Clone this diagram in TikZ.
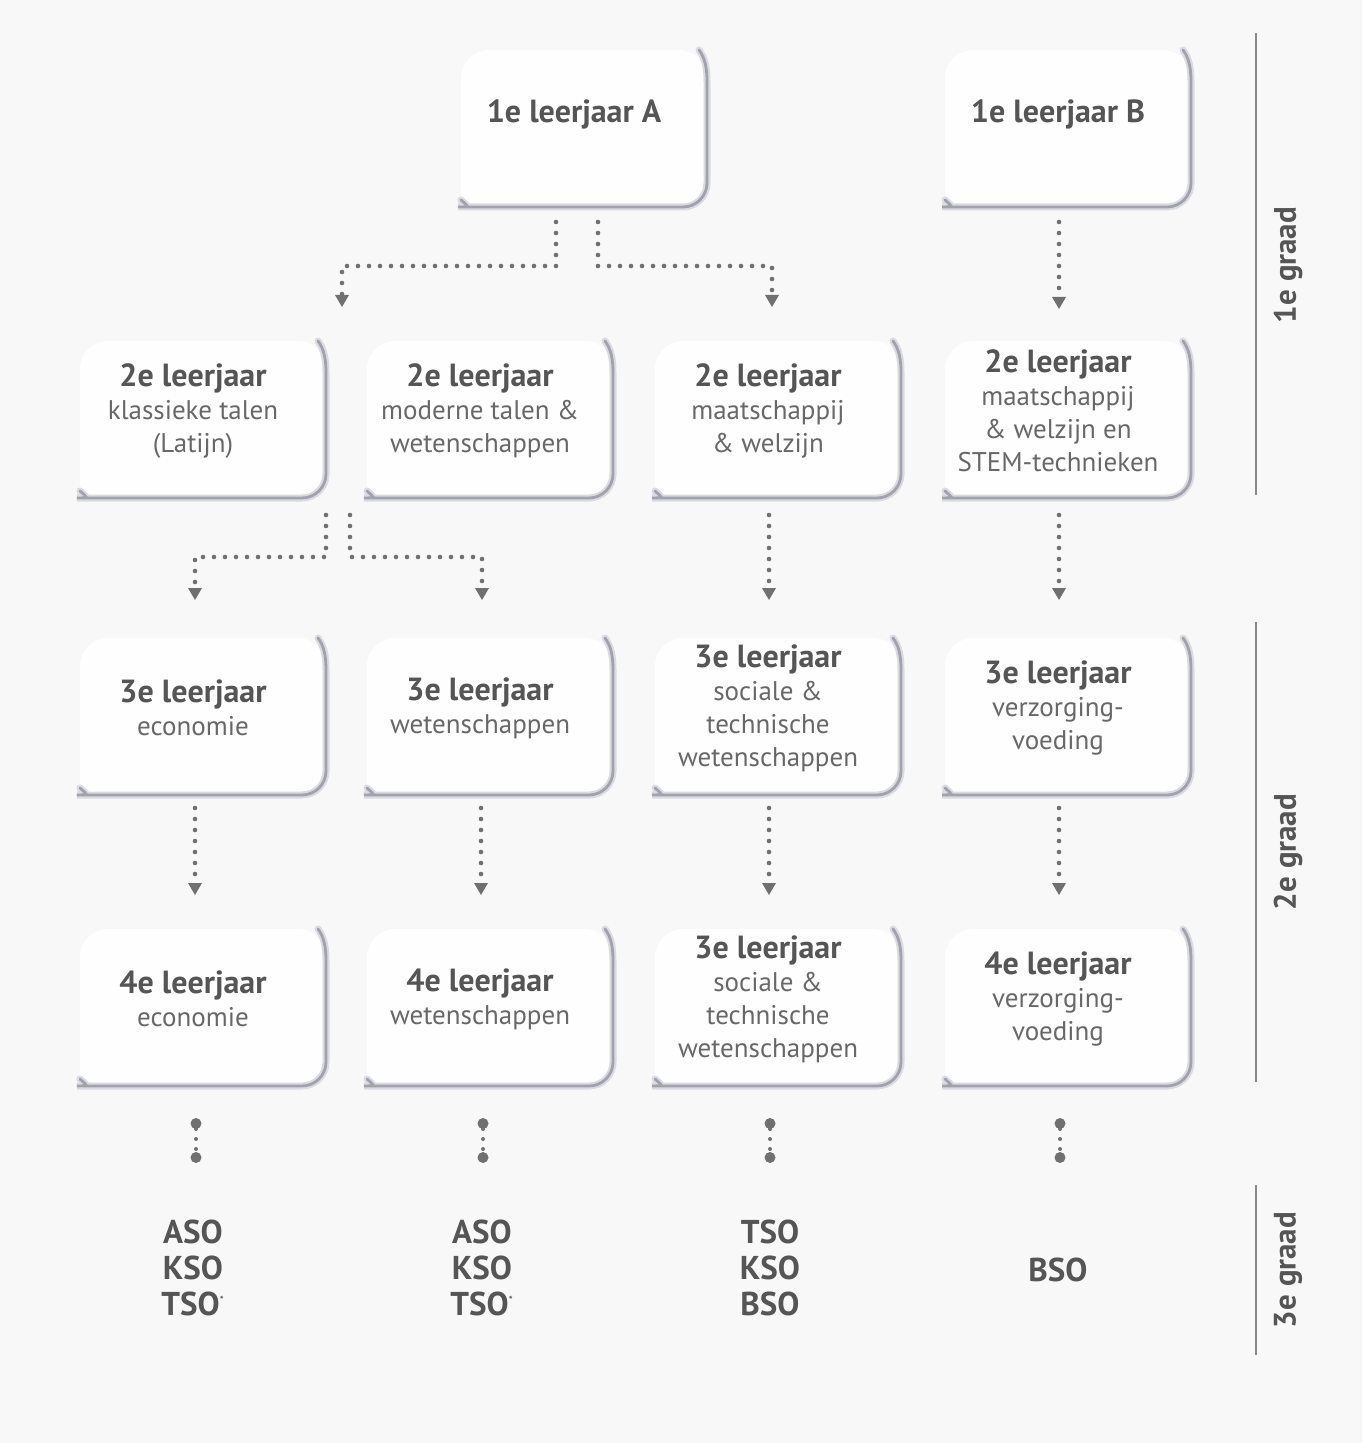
\documentclass[tikz,border=0pt]{standalone}
\usepackage{fontspec}
\setmainfont{PT Sans}
\usetikzlibrary{arrows.meta,calc}
\definecolor{bg}{HTML}{F8F8F8}
\definecolor{cardfill}{HTML}{FEFEFE}
\definecolor{tb}{HTML}{555555}
\definecolor{tr}{HTML}{686868}
\definecolor{edge}{HTML}{A2A2AA}
\definecolor{edgesoft}{HTML}{DADAE2}
\definecolor{dotc}{HTML}{707070}
\definecolor{gl}{HTML}{888888}
\tikzset{
  card/.style={align=center, text=tr, font=\fontsize{13.5}{16.5}\selectfont, inner sep=0pt},
  conn/.style={draw=dotc, line width=2.3pt, line cap=round, dash pattern=on 0pt off 5.5pt,
    -{Triangle[width=7pt,length=6pt,line width=0pt]}},
  endconn/.style={draw=dotc, line width=2pt, line cap=round, dash pattern=on 0pt off 5pt,
    {Circle[length=5.5pt,line width=0pt]}-{Circle[length=5.5pt,line width=0pt]}},
  outcome/.style={align=center, text=tb, font=\fontsize{16.5}{18}\selectfont\bfseries, inner sep=0pt},
  gradelabel/.style={rotate=90, text=tb, font=\fontsize{15.5}{17}\selectfont\bfseries, inner sep=0pt},
  gradeline/.style={draw=gl, line width=1pt},
}
\newcommand\hd[1]{{\fontsize{16}{16.5}\selectfont\bfseries\color{tb}#1}}
\newcommand\cardpath[2]{%
  (125,-#1) .. controls (131,-#1+8) and (133,-#1+18) .. (133,-#1+32)
  [rounded corners=12pt] -- (133,#2) -- (-92,#2) [sharp corners]
  .. controls (-102,#2) and (-108,#2-2) .. (-113,#2-7)}
\newcommand\drawcard[3]{%
  \begin{scope}[shift={(#1.center)}]
    \fill[cardfill] (-113,#3-7) [rounded corners=14pt] -- (-113,-#2) -- (133,-#2) -- (133,#3)
      [sharp corners] -- (-92,#3) .. controls (-102,#3) and (-108,#3-2) .. (-113,#3-7) -- cycle;
    \draw[edgesoft, line width=3.5pt, line cap=round] \cardpath{#2}{#3};
    \draw[edge, line width=1.4pt, line cap=round] \cardpath{#2}{#3};
  \end{scope}}
\begin{document}
\begin{tikzpicture}[x=0.5pt,y=-0.5pt]
\useasboundingbox (0,0) rectangle (1362,1443);
\fill[bg] (0,0) rectangle (1362,1443);

% card anchor nodes (text)
\node[card] (n1a) at (574,114) {\hd{1e leerjaar A}};
\node[card] (n1b) at (1058,114) {\hd{1e leerjaar B}};
\node[card] (n21) at (193,411) {\hd{2e leerjaar}\\klassieke talen\\(Latijn)};
\node[card] (n22) at (480,411) {\hd{2e leerjaar}\\moderne talen \&\\wetenschappen};
\node[card] (n23) at (768,411) {\hd{2e leerjaar}\\maatschappij\\\& welzijn};
\node[card] (n24) at (1058,411) {\hd{2e leerjaar}\\maatschappij\\\& welzijn en\\STEM-technieken};
\node[card] (n31) at (193,708) {\hd{3e leerjaar}\\economie};
\node[card] (n32) at (480,708) {\hd{3e leerjaar}\\wetenschappen};
\node[card] (n33) at (768,708) {\hd{3e leerjaar}\\sociale \&\\technische\\wetenschappen};
\node[card] (n34) at (1058,708) {\hd{3e leerjaar}\\verzorging-\\voeding};
\node[card] (n41) at (193,999) {\hd{4e leerjaar}\\economie};
\node[card] (n42) at (480,999) {\hd{4e leerjaar}\\wetenschappen};
\node[card] (n43) at (768,999) {\hd{3e leerjaar}\\sociale \&\\technische\\wetenschappen};
\node[card] (n44) at (1058,999) {\hd{4e leerjaar}\\verzorging-\\voeding};

% card outlines
\drawcard{n1a}{64}{93}
\drawcard{n1b}{64}{93}
\foreach \n in {n21,n22,n23,n24,n31,n32,n33,n34,n41,n42,n43,n44}{\drawcard{\n}{70}{87}}

% texts on top of the card fills
\node[card] at (n1a) {\hd{1e leerjaar A}};
\node[card] at (n1b) {\hd{1e leerjaar B}};
\node[card] at (n21) {\hd{2e leerjaar}\\klassieke talen\\(Latijn)};
\node[card] at (n22) {\hd{2e leerjaar}\\moderne talen \&\\wetenschappen};
\node[card] at (n23) {\hd{2e leerjaar}\\maatschappij\\\& welzijn};
\node[card] at (n24) {\hd{2e leerjaar}\\maatschappij\\\& welzijn en\\STEM-technieken};
\node[card] at (n31) {\hd{3e leerjaar}\\economie};
\node[card] at (n32) {\hd{3e leerjaar}\\wetenschappen};
\node[card] at (n33) {\hd{3e leerjaar}\\sociale \&\\technische\\wetenschappen};
\node[card] at (n34) {\hd{3e leerjaar}\\verzorging-\\voeding};
\node[card] at (n41) {\hd{4e leerjaar}\\economie};
\node[card] at (n42) {\hd{4e leerjaar}\\wetenschappen};
\node[card] at (n43) {\hd{3e leerjaar}\\sociale \&\\technische\\wetenschappen};
\node[card] at (n44) {\hd{4e leerjaar}\\verzorging-\\voeding};

% connector coordinates
\coordinate (s1l) at (556,222); \coordinate (t1l) at (342,307);
\coordinate (s1r) at (598,222); \coordinate (t1r) at (772,307);
\coordinate (s1b) at (1059,222); \coordinate (t1b) at (1059,309);
\coordinate (s2l) at (326,515); \coordinate (t2l) at (195,600);
\coordinate (s2r) at (350,515); \coordinate (t2r) at (482,600);
\coordinate (s23) at (769,515); \coordinate (t23) at (769,600);
\coordinate (s24) at (1059,515); \coordinate (t24) at (1059,600);
\foreach \i/\x in {1/195,2/481,3/769,4/1059}{
  \coordinate (s3\i) at (\x,808); \coordinate (t3\i) at (\x,895);
}
\foreach \i/\x in {1/196,2/483,3/770,4/1060}{
  \coordinate (e\i) at (\x,1118); \coordinate (f\i) at (\x,1163);
}

\draw[conn] (s1l) -- ++(0,44) -| (t1l);
\draw[conn] (s1r) -- ++(0,44) -| (t1r);
\draw[conn] (s1b) -- (t1b);
\draw[conn] (s2l) -- ++(0,42) -| (t2l);
\draw[conn] (s2r) -- ++(0,42) -| (t2r);
\draw[conn] (s23) -- (t23);
\draw[conn] (s24) -- (t24);
\foreach \i in {1,2,3,4}{
  \draw[conn] (s3\i) -- (t3\i);
  \draw[endconn] (e\i) -- (f\i);
}

% outcomes
\node[outcome] (o1) at (193,1268) {ASO\\KSO\\TSO\textsuperscript{\tiny*}};
\node[outcome] (o2) at (482,1268) {ASO\\KSO\\TSO\textsuperscript{\tiny*}};
\node[outcome] (o3) at (770,1268) {TSO\\KSO\\BSO};
\node[outcome] (o4) at (1058,1270) {BSO};

% grade bars
\draw[gradeline] (1256,33) -- (1256,495);
\draw[gradeline] (1256,622) -- (1256,1082);
\draw[gradeline] (1256,1185) -- (1256,1355);
\node[gradelabel] (g1) at (1288,265) {1e graad};
\node[gradelabel] (g2) at (1288,852) {2e graad};
\node[gradelabel] (g3) at (1288,1270) {3e graad};
\end{tikzpicture}
\end{document}
